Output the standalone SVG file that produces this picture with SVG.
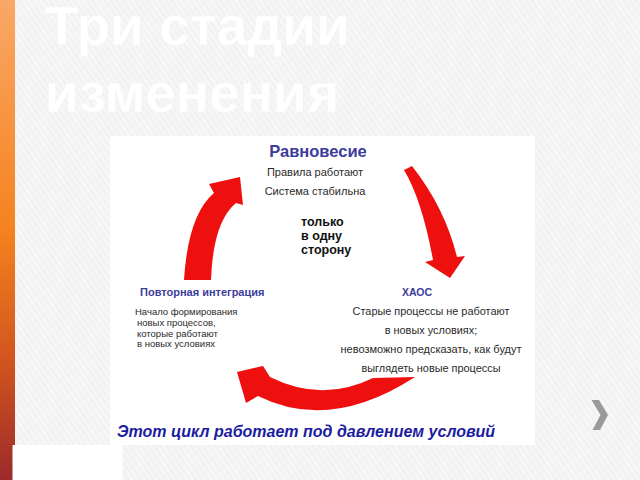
<svg xmlns="http://www.w3.org/2000/svg" width="640" height="480" viewBox="0 0 640 480">
<defs>
<pattern id="hatch" width="5" height="5" patternUnits="userSpaceOnUse" patternTransform="rotate(-35)">
<rect width="5" height="5" fill="#f6f6f6"/>
<line x1="0" y1="0" x2="0" y2="5" stroke="#ebebeb" stroke-width="1.6"/>
</pattern>
<linearGradient id="bar" x1="0" y1="0" x2="0" y2="1">
<stop offset="0" stop-color="#f9a866"/>
<stop offset="0.48" stop-color="#f5821e"/>
<stop offset="0.75" stop-color="#d2551f"/>
<stop offset="1" stop-color="#9c2a2a"/>
</linearGradient>
<style>
.title{font-family:"Liberation Sans",Arial,sans-serif;font-weight:bold;font-size:55px;fill:#ffffff;stroke:#f3f3f3;stroke-width:0.4}
.head{font-family:"Liberation Sans",Arial,sans-serif;font-weight:bold;fill:#3c3c9c}
.body{font-family:"Liberation Sans",Arial,sans-serif;fill:#2a2a2a}
.mid{font-family:"Liberation Sans",Arial,sans-serif;font-weight:bold;font-size:12.5px;fill:#111}
.foot{font-family:"Liberation Sans",Arial,sans-serif;font-weight:bold;font-style:italic;font-size:16px;fill:#1c1ca0}
.arrow{fill:#ee0f0f}
</style>
</defs>
<rect width="640" height="480" fill="url(#hatch)"/>
<rect x="0" y="0" width="15" height="480" fill="url(#bar)"/>
<rect x="12.5" y="445" width="110" height="35" fill="#ffffff"/>
<text class="title" x="45" y="45">Три стадии</text>
<text class="title" x="45" y="112">изменения</text>
<rect x="110" y="136" width="425" height="309" fill="#ffffff"/>
<g id="connectors">
<path class="arrow" d="M184,280 Q188,215 214,193 L209,184 L240,177 L243,205 L236,203 Q213,222 211,280 Z"/>
<path class="arrow" d="M404,170 L412,166 Q445,208 457,257 L465,256 L450,278 L425,262 L433,260 Q422,200 404,170 Z"/>
<path class="arrow" d="M373,378 Q322,403 270,377 L263,366 L237,372 L246,403 L258,396 Q330,432 415,377 Z"/>
</g>
<g id="ravnovesie">
<text class="head" x="318" y="157" font-size="16.5" text-anchor="middle">Равновесие</text>
<text class="body" x="315" y="176" font-size="11" text-anchor="middle">Правила работают</text>
<text class="body" x="315" y="195" font-size="11" text-anchor="middle">Система стабильна</text>
</g>
<g id="center">
<text class="mid" x="301" y="226">только</text>
<text class="mid" x="301" y="240">в одну</text>
<text class="mid" x="301" y="254">сторону</text>
</g>
<g id="integration">
<text class="head" x="140" y="296" font-size="11">Повторная интеграция</text>
<text class="body" x="135" y="315" font-size="9.5">Начало формирования</text>
<text class="body" x="137" y="326" font-size="9.5">новых процессов,</text>
<text class="body" x="137" y="337" font-size="9.5">которые работают</text>
<text class="body" x="137" y="347" font-size="9.5">в новых условиях</text>
</g>
<g id="chaos">
<text class="head" x="417" y="296" font-size="10.5" text-anchor="middle">ХАОС</text>
<text class="body" x="431" y="315" font-size="10.9" text-anchor="middle">Старые процессы не работают</text>
<text class="body" x="431" y="334" font-size="10.9" text-anchor="middle">в новых условиях;</text>
<text class="body" x="431" y="353" font-size="11" text-anchor="middle">невозможно предсказать, как будут</text>
<text class="body" x="431" y="372" font-size="10.9" text-anchor="middle">выглядеть новые процессы</text>
</g>
<g id="footer">
<text class="foot" x="117" y="437">Этот цикл работает под давлением условий</text>
</g>
<polygon points="591.5,400 599,400 608,415 600,430 592.5,430 600.5,415" fill="#9a9a9a"/>
</svg>
